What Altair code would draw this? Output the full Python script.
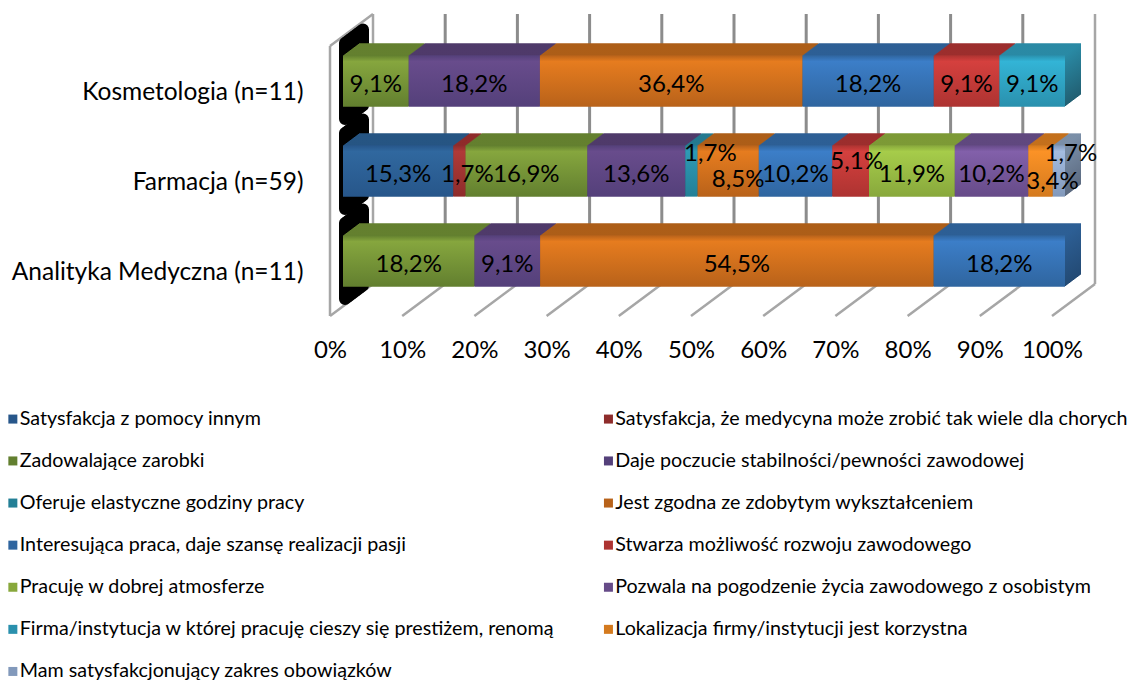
import altair as alt
import pandas as pd

FONT = "Lato"
categories = ["Kosmetologia (n=11)", "Farmacja (n=59)", "Analityka Medyczna (n=11)"]
series = [
    "Satysfakcja z pomocy innym",
    "Satysfakcja, że medycyna może zrobić tak wiele dla chorych",
    "Zadowalające zarobki",
    "Daje poczucie stabilności/pewności zawodowej",
    "Oferuje elastyczne godziny pracy",
    "Jest zgodna ze zdobytym wykształceniem",
    "Interesująca praca, daje szansę realizacji pasji",
    "Stwarza możliwość rozwoju zawodowego",
    "Pracuję w dobrej atmosferze",
    "Pozwala na pogodzenie życia zawodowego z osobistym",
    "Firma/instytucja w której pracuję cieszy się prestiżem, renomą",
    "Lokalizacja firmy/instytucji jest korzystna",
    "Mam satysfakcjonujący zakres obowiązków",
]
kosmetologia = [0, 0, 9.1, 18.2, 0, 36.4, 18.2, 9.1, 0, 0, 9.1, 0, 0]
farmacja = [15.3, 1.7, 16.9, 13.6, 1.7, 8.5, 10.2, 5.1, 11.9, 10.2, 0, 3.4, 1.7]
analityka = [0, 0, 18.2, 9.1, 0, 54.5, 18.2, 0, 0, 0, 0, 0, 0]

front_top = ["#30689f", "#b03a38", "#86a63e", "#684c8c", "#2e9ab5", "#e67c1f",
             "#3c7ec8", "#d5403e", "#a6cc4a", "#8260aa", "#33b4d6", "#fb9226", "#a4bce0"]
front_bot = ["#27568a", "#8e2c2b", "#627f2f", "#54407a", "#237f96", "#b8621a",
             "#2f659f", "#ad3331", "#88a83c", "#664b88", "#2a90ad", "#d47a1e", "#8299bb"]
face_top = ["#265583", "#8f2b2a", "#64802f", "#4f3a6a", "#237a90", "#ad5e18",
            "#2d5f95", "#9c2e2d", "#7d9a36", "#60487f", "#2a8aa5", "#c4701c", "#7b8fa8"]
face_bot = ["#1d4066", "#6e2120", "#4b6023", "#3c2c52", "#1a5c6e", "#844712",
            "#234a74", "#782423", "#607729", "#4a3862", "#215f72", "#965615", "#5b6a80"]

rows = []
for cat, vals in zip(categories, [kosmetologia, farmacja, analityka]):
    total = sum(vals)
    cum = 0.0
    for s, v in zip(series, vals):
        if v > 0:
            rows.append(dict(cat=cat, series=s, start=cum / total, end=(cum + v) / total,
                             mid=(cum + v / 2) / total, label=f"{v:.1f}%".replace(".", ",")))
        cum += v
df = pd.DataFrame(rows)

W, H = 722, 270
DX, DY = 13, -10   # bars sit inside the 3D box
xs = alt.Scale(domain=[0, 1], range=[0, W], nice=False)
ys = alt.Scale(domain=categories, paddingInner=0.43, paddingOuter=0.215)
x_axis = alt.Axis(values=[i / 10 for i in range(11)], format=".0%", title=None, grid=False, domain=False,
                  ticks=False, labelPadding=22, labelFontSize=24, labelFont=FONT, labelColor="#000000",
                  labelFontWeight="normal", labelOverlap=False, labelFlush=False, labelBound=False)
y_axis = alt.Axis(title=None, grid=False, domain=False, ticks=False, labelPadding=27, labelOffset=2,
                  labelFontSize=24.5, labelFont=FONT, labelColor="#000000", labelLimit=400,
                  labelFontWeight="normal")
X = alt.X("start:Q", scale=xs, axis=x_axis)
Y = alt.Y("cat:N", scale=ys, axis=y_axis)


def grad(c0, c1, mid=None):
    stops = [alt.GradientStop(color=c0, offset=0)]
    if mid:
        stops.append(alt.GradientStop(color=mid, offset=0.12))
    stops.append(alt.GradientStop(color=c1, offset=1))
    return alt.Gradient(gradient="linear", stops=stops, x1=0, x2=0, y1=0, y2=1)


ticks = pd.DataFrame({"v": [i / 10 for i in range(11)]})
inner = ticks[(ticks.v > 0) & (ticks.v < 1)]
edges = ticks[(ticks.v == 0) | (ticks.v == 1)]
tx = alt.X("v:Q", scale=xs, axis=x_axis)

layers = []
# category-axis carrier
layers.append(alt.Chart(df).mark_point(opacity=0).encode(x=X, y=Y))

GRID = "#8c8c8c"
EDGE = "#a6a6a6"
BX, BY = 43, -32
# back wall
layers.append(alt.Chart(inner).mark_rule(color=GRID, strokeWidth=3, xOffset=BX).encode(
    x=tx, y=alt.value(BY), y2=alt.value(H + BY)))
layers.append(alt.Chart(edges).mark_rule(color=EDGE, strokeWidth=2.5, xOffset=BX).encode(
    x=tx, y=alt.value(BY), y2=alt.value(H + BY)))
# left wall front edge and floor lines
layers.append(alt.Chart(edges[edges.v == 0]).mark_rule(color=EDGE, strokeWidth=2.5).encode(
    x=tx, y=alt.value(0), y2=alt.value(H)))
layers.append(alt.Chart(ticks).mark_rule(color=EDGE, strokeWidth=2.5, x2Offset=BX).encode(
    x=tx, x2="v:Q", y=alt.value(H), y2=alt.value(H + BY)))
layers.append(alt.Chart(edges[edges.v == 0]).mark_rule(color=EDGE, strokeWidth=2.5, x2Offset=BX).encode(
    x=tx, x2="v:Q", y=alt.value(0), y2=alt.value(BY)))

# black zero-value smear behind the bars
zero = pd.DataFrame({"cat": categories, "start": [0.0] * 3, "end": [0.0] * 3})
for k in range(18, -1, -2):
    layers.append(alt.Chart(zero).mark_bar(
        color="#000000", stroke="#000000", strokeWidth=12, strokeJoin="round", size=76,
        xOffset=15 + k, x2Offset=15 + k, yOffset=DY - k * 0.75, y2Offset=DY - k * 0.75,
    ).encode(x=X, x2="end:Q", y=Y))

# extruded depth
for k in range(16, 0, -1):
    off_x = DX + k
    off_y = DY - k * 0.75
    for i, s in enumerate(series):
        sub = df[df.series == s]
        if sub.empty:
            continue
        layers.append(alt.Chart(sub).mark_bar(
            color=grad(face_top[i], face_bot[i]),
            xOffset=off_x, x2Offset=off_x, yOffset=off_y, y2Offset=off_y,
        ).encode(x=X, x2="end:Q", y=Y))

# front faces
for i, s in enumerate(series):
    sub = df[df.series == s]
    if sub.empty:
        continue
    layers.append(alt.Chart(sub).mark_bar(
        color=grad(front_bot[i], front_bot[i], front_top[i]),
        xOffset=DX, x2Offset=DX, yOffset=DY, y2Offset=DY,
    ).encode(x=X, x2="end:Q", y=Y))

# data labels (those in the crowded row are nudged as in the reference)
nudged = {
    ("Farmacja (n=59)", "Satysfakcja, że medycyna może zrobić tak wiele dla chorych"): (8, 0),
    ("Farmacja (n=59)", "Oferuje elastyczne godziny pracy"): (19, -21),
    ("Farmacja (n=59)", "Jest zgodna ze zdobytym wykształceniem"): (10, 5),
    ("Farmacja (n=59)", "Stwarza możliwość rozwoju zawodowego"): (6, -13),
    ("Farmacja (n=59)", "Lokalizacja firmy/instytucji jest korzystna"): (12, 7),
    ("Farmacja (n=59)", "Mam satysfakcjonujący zakres obowiązków"): (12, -21),
}
nudge = [nudged.get((c, s), (0, 0)) for c, s in zip(df.cat, df.series)]
df["ndx"] = [n[0] for n in nudge]
df["ndy"] = [n[1] for n in nudge]
for (ndx, ndy), sub in df.groupby(["ndx", "ndy"]):
    layers.append(alt.Chart(sub).mark_text(
        font=FONT, fontSize=24, color="#000000", dx=DX + int(ndx), dy=DY + 4 + int(ndy), baseline="middle",
    ).encode(x=alt.X("mid:Q", scale=xs, axis=x_axis), y=Y, text="label:N"))

# legend carrier: Vega fills a legend column by column
order = series[0::2] + series[1::2]
order_colors = [front_bot[series.index(s)] for s in order]
legend_df = pd.DataFrame({"series": series, "start": [0.0] * 13, "end": [0.0] * 13, "cat": [categories[0]] * 13})
layers.append(alt.Chart(legend_df).mark_bar(opacity=1, strokeWidth=0).encode(
    x=X, x2="end:Q", y=Y,
    color=alt.Color("series:N", scale=alt.Scale(domain=order, range=order_colors),
                    legend=alt.Legend(
                        title=None, orient="none", legendX=-331, legendY=363, columns=2, padding=0,
                        symbolType="square", symbolSize=81, symbolStrokeWidth=0, symbolOffset=4,
                        labelFont=FONT, labelFontSize=19.7,
                        labelColor="#000000", labelLimit=1000, labelOffset={"expr": "-3"}, rowPadding=21.1,
                        columnPadding=39.6, symbolOpacity=1)),
))

chart = alt.layer(*layers).resolve_scale(x="shared", y="shared").properties(
    width=W, height=H,
    autosize=alt.AutoSizeParams(type="none"),
    padding={"left": 322, "top": 38, "right": 77, "bottom": 365},
).configure_view(stroke=None)

chart.save("out.html", embed_options={"renderer": "svg", "actions": False})
